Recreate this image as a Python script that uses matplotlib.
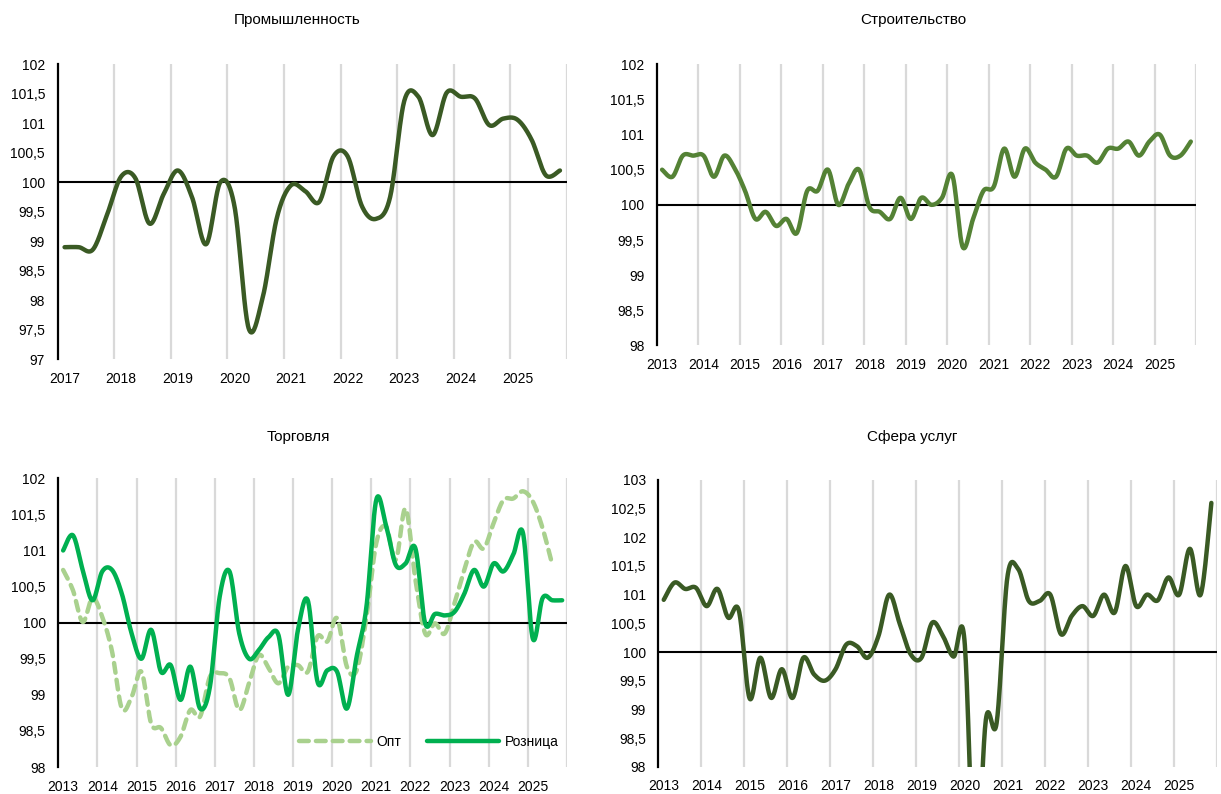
import numpy as np
import matplotlib
matplotlib.use("Agg")
import matplotlib.pyplot as plt
from matplotlib.ticker import FuncFormatter

plt.rcParams['font.family'] = ['Liberation Sans', 'DejaVu Sans']

# квартальные ряды, значения
industry_years = list(range(2017, 2026))
industry = [98.9, 98.9, 98.86, 99.45, 100.1, 100.07, 99.3, 99.8, 100.2, 99.75, 98.95, 100.0,
            99.6, 97.53, 98.05, 99.4, 99.95, 99.85, 99.67, 100.44, 100.44, 99.6, 99.38, 99.75,
            101.38, 101.45, 100.8, 101.52, 101.45, 101.42, 100.97, 101.08, 101.06, 100.72, 100.12, 100.2]

long_years = list(range(2013, 2026))
construction = [100.5, 100.4, 100.7, 100.7, 100.7, 100.4, 100.7, 100.52, 100.2, 99.8, 99.9, 99.7,
                99.8, 99.6, 100.2, 100.2, 100.5, 100.0, 100.3, 100.5, 99.97, 99.9, 99.8, 100.1,
                99.8, 100.1, 100.0, 100.1, 100.42, 99.4, 99.8, 100.2, 100.26, 100.8, 100.4, 100.8,
                100.6, 100.5, 100.4, 100.8, 100.7, 100.7, 100.6, 100.8, 100.8, 100.9, 100.7, 100.9,
                101.0, 100.7, 100.7, 100.9]

retail = [101.0, 101.21, 100.73, 100.31, 100.71, 100.73, 100.4, 99.85, 99.5, 99.9, 99.32, 99.41,
          98.93, 99.39, 98.81, 99.11, 100.36, 100.71, 99.85, 99.5, 99.62, 99.8, 99.83, 99.0,
          99.9, 100.31, 99.18, 99.34, 99.32, 98.81, 99.53, 100.22, 101.7, 101.35, 100.8, 100.82,
          101.03, 99.99, 100.12, 100.1, 100.15, 100.4, 100.73, 100.5, 100.82, 100.71, 100.94, 101.24,
          99.78, 100.34, 100.31, 100.31]

wholesale = [100.73, 100.45, 100.01, 100.34, 100.08, 99.6, 98.81, 98.97, 99.32, 98.6, 98.54, 98.3,
             98.42, 98.79, 98.7, 99.25, 99.3, 99.23, 98.79, 99.16, 99.55, 99.37, 99.16, 99.39,
             99.41, 99.32, 99.81, 99.74, 100.06, 99.39, 99.34, 100.08, 101.1, 101.33, 100.87, 101.58,
             100.6, 99.85, 99.99, 99.85, 100.27, 100.73, 101.12, 101.03, 101.38, 101.7, 101.72, 101.82,
             101.68, 101.31, 100.8]

services = [100.91, 101.21, 101.1, 101.12, 100.8, 101.1, 100.6, 100.72, 99.19, 99.9, 99.2, 99.7,
            99.2, 99.9, 99.61, 99.5, 99.7, 100.13, 100.1, 99.9, 100.28, 101.0, 100.48, 99.96,
            99.9, 100.51, 100.28, 99.92, 100.22, 96.0, 98.82, 98.76, 101.3, 101.45, 100.89, 100.89,
            101.0, 100.31, 100.63, 100.8, 100.63, 101.0, 100.69, 101.5, 100.8, 101.0, 100.9, 101.3,
            101.0, 101.8, 101.0, 102.6]

DARK = '#3a5a24'
MID = '#548235'
RETAIL_C = '#00b050'
WHOLE_C = '#a9d18e'


def smooth(y, n=24):
    """Сглаживание как в Excel: кривые Безье через все точки"""
    y = np.asarray(y, float)
    P = np.column_stack([np.arange(len(y), dtype=float), y])
    P = np.vstack([P[0], P, P[-1]])
    t = np.linspace(0, 1, n)[:, None]
    out = []
    for i in range(1, len(P) - 2):
        p0, p1, p2, p3 = P[i - 1], P[i], P[i + 1], P[i + 2]
        c1 = p1 + (p2 - p0) / 6
        c2 = p2 - (p3 - p1) / 6
        seg = (1 - t)**3 * p1 + 3 * (1 - t)**2 * t * c1 + 3 * (1 - t) * t**2 * c2 + t**3 * p2
        out.append(seg if i == 1 else seg[1:])
    s = np.vstack(out)
    return s[:, 0], s[:, 1]


def setup(ax, years, ymin, ymax):
    n = len(years) * 4
    ax.set_xlim(-0.5, n - 0.5)
    ax.set_ylim(ymin, ymax)
    for k in range(1, len(years) + 1):
        ax.axvline(4 * k - 0.5, color='#d9d9d9', lw=1.6, zorder=0.5)
    ax.axhline(100, color='black', lw=1.5, zorder=1.5)
    ax.set_xticks(range(0, n, 4))
    ax.set_xticklabels([str(y) for y in years])
    ax.set_yticks(np.arange(ymin, ymax + 0.01, 0.5))
    ax.yaxis.set_major_formatter(FuncFormatter(lambda v, p: f'{v:g}'.replace('.', ',')))
    for s in ['top', 'right', 'bottom']:
        ax.spines[s].set_visible(False)
    ax.spines['left'].set_linewidth(1.6)
    ax.tick_params(axis='both', length=0, labelsize=10, colors='black')
    ax.tick_params(axis='x', pad=9)
    ax.tick_params(axis='y', pad=9)


def draw(ax, values, color, **kw):
    x, y = smooth(values)
    ax.plot(x, y, color=color, lw=3.2, solid_capstyle='round', zorder=3, **kw)


fig = plt.figure(figsize=(12.21, 7.94), dpi=100)

ax1 = fig.add_axes([0.0471, 0.5475, 0.4173, 0.3715])
setup(ax1, industry_years, 97, 102)
draw(ax1, industry, DARK)

ax2 = fig.add_axes([0.538, 0.5649, 0.4415, 0.3542])
setup(ax2, long_years, 98, 102)
draw(ax2, construction, MID)

ax3 = fig.add_axes([0.0477, 0.034, 0.4167, 0.3636])
setup(ax3, long_years, 98, 102)
xw, yw = smooth(wholesale)
ax3.plot(xw, yw, color=WHOLE_C, lw=3.2, ls=(0, (2.2, 1.6)), dash_capstyle='round',
         zorder=3, label='Опт')
draw(ax3, retail, RETAIL_C, label='Розница')
ax3.legend(loc='center left', bbox_to_anchor=(299 / 1221, 1 - 742 / 794),
           bbox_transform=fig.transFigure, ncol=2, frameon=False, fontsize=10,
           handlelength=5.2, handletextpad=0.4, columnspacing=1.8, borderpad=0,
           borderaxespad=0)

ax4 = fig.add_axes([0.5392, 0.0344, 0.4573, 0.3611])
setup(ax4, long_years, 98, 103)
draw(ax4, services, DARK)

titles = [('Промышленность', 297, 20), ('Строительство', 913, 20),
          ('Торговля', 298, 437), ('Сфера услуг', 912, 437)]
for txt, x, y in titles:
    fig.text(x / 1221, 1 - y / 794, txt, ha='center', va='center', fontsize=11)

fig.savefig('out.png', dpi=100)
